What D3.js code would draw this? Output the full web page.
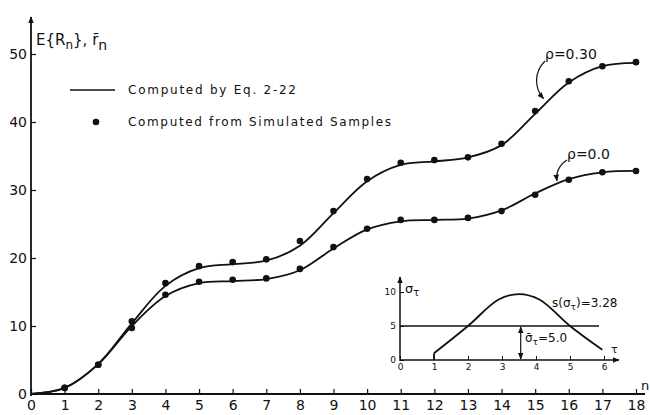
<!DOCTYPE html>
<html>
<head>
<meta charset="utf-8">
<script src="https://cdn.jsdelivr.net/npm/d3@7"></script>
<style>
  html, body { margin: 0; padding: 0; background: #fff; }
  svg { display: block; font-family: "DejaVu Sans", sans-serif; }
</style>
</head>
<body>
<svg id="chart" width="650" height="415"></svg>
<script>
// ---------- data ----------
const nValues = [0,1,2,3,4,5,6,7,8,9,10,11,12,13,14,15,16,17,18];
const computedRho030 = [0,0.9,4.4,10.4,15.9,18.5,19.1,19.6,21.8,26.6,31.3,33.7,34.2,34.8,36.6,41.2,45.8,48.2,48.7];
const computedRho000 = [0,0.9,4.4,10.0,14.4,16.3,16.6,16.9,18.2,21.4,24.2,25.4,25.6,25.8,27.0,29.5,31.6,32.6,32.8];
const simN = [1,2,3,4,5,6,7,8,9,10,11,12,13,14,15,16,17,18];
const simRho030 = [0.9,4.3,10.7,16.3,18.8,19.4,19.8,22.5,26.9,31.6,34.0,34.4,34.8,36.8,41.6,46.0,48.2,48.8];
const simRho000 = [0.9,4.3,9.7,14.6,16.5,16.8,17.0,18.4,21.6,24.3,25.6,25.6,25.9,26.9,29.3,31.5,32.6,32.8];
const xTicks = [0,1,2,3,4,5,6,7,8,9,10,11,12,13,14,15,16,17,18];
const yTicks = [0,10,20,30,40,50];
// inset: sigma_tau vs tau
const insetTau = [1,2,2.9,3.5,4.1,5,5.95];
const insetSigma = [1,5,8.9,9.7,8.9,5,1.5];
const insetMean = 5.0;
const insetMeanTau = 3.55;
const insetXTicks = [0,1,2,3,4,5,6];
const insetYTicks = [0,5,10];

// ---------- setup ----------
const svg = d3.select("#chart");
const defs = svg.append("defs");
defs.append("marker").attr("id","arrow").attr("viewBox","0 0 10 10")
  .attr("refX",9).attr("refY",5).attr("markerWidth",7).attr("markerHeight",7)
  .attr("orient","auto-start-reverse").attr("markerUnits","userSpaceOnUse")
  .append("path").attr("d","M0,1 L10,5 L0,9 Z").attr("fill","#111");

const x = d3.scaleLinear().domain([0,18]).range([31,636]);
const y = d3.scaleLinear().domain([0,50]).range([394,54]);

const ink = "#111";

// main axes lines
svg.append("line").attr("x1",x(0)).attr("x2",x(0)).attr("y1",y(0)+2).attr("y2",17)
  .attr("stroke",ink).attr("stroke-width",1.8).attr("marker-end","url(#arrow)");
svg.append("line").attr("x1",x(0)).attr("x2",645).attr("y1",y(0)).attr("y2",y(0))
  .attr("stroke",ink).attr("stroke-width",1.8);

const xAxis = svg.append("g").attr("transform",`translate(0,${y(0)})`)
  .call(d3.axisBottom(x).tickValues(xTicks).tickFormat(d3.format("d")).tickSizeInner(-5).tickSizeOuter(0).tickPadding(6));
xAxis.select(".domain").remove();
xAxis.selectAll("line").attr("stroke",ink).attr("stroke-width",1.2);
xAxis.selectAll("text").attr("font-size",14).attr("fill",ink).attr("font-family","DejaVu Sans, sans-serif");

const yAxis = svg.append("g").attr("transform",`translate(${x(0)},0)`)
  .call(d3.axisLeft(y).tickValues(yTicks).tickFormat(d3.format("d")).tickSizeInner(-5).tickSizeOuter(0).tickPadding(4));
yAxis.select(".domain").remove();
yAxis.selectAll("line").attr("stroke",ink).attr("stroke-width",1.2);
yAxis.selectAll("text").attr("font-size",14).attr("fill",ink).attr("font-family","DejaVu Sans, sans-serif");

svg.append("text").attr("x",641).attr("y",390).attr("font-size",13).attr("fill",ink).text("n");

// y title
const yt = svg.append("text").attr("x",36).attr("y",45).attr("font-size",15).attr("fill",ink);
yt.append("tspan").text("E{R");
yt.append("tspan").attr("dy",4).attr("font-size",12).text("n");
yt.append("tspan").attr("dy",-4).text("},  r\u0304");
yt.append("tspan").attr("dy",5).attr("font-size",14).text("n");

// curves
const line = d3.line().x((d,i)=>x(nValues[i])).y(d=>y(d)).curve(d3.curveCatmullRom.alpha(0.5));
[computedRho030, computedRho000].forEach(arr=>{
  svg.append("path").attr("d",line(arr)).attr("fill","none").attr("stroke",ink).attr("stroke-width",1.8);
});
[simRho030, simRho000].forEach(arr=>{
  svg.append("g").selectAll("circle").data(arr).join("circle")
    .attr("cx",(d,i)=>x(simN[i])).attr("cy",d=>y(d)).attr("r",3.3).attr("fill",ink);
});

// legend
svg.append("line").attr("x1",70).attr("x2",115).attr("y1",90).attr("y2",90).attr("stroke",ink).attr("stroke-width",1.6);
svg.append("text").attr("x",128).attr("y",94).attr("font-size",12).attr("letter-spacing",1.75).attr("fill",ink).text("Computed by Eq. 2-22");
svg.append("circle").attr("cx",96).attr("cy",122).attr("r",3.3).attr("fill",ink);
svg.append("text").attr("x",128).attr("y",126).attr("font-size",12).attr("letter-spacing",1.65).attr("fill",ink).text("Computed from Simulated Samples");

// rho annotations
svg.append("text").attr("x",545).attr("y",59).attr("font-size",14).attr("fill",ink).text("\u03C1=0.30");
svg.append("path").attr("d",`M545,61 C534,72 534,88 ${x(15.25)},${y(43)-3}`)
  .attr("fill","none").attr("stroke",ink).attr("stroke-width",1.2).attr("marker-end","url(#arrow)");
svg.append("text").attr("x",567).attr("y",159).attr("font-size",14).attr("fill",ink).text("\u03C1=0.0");
svg.append("path").attr("d",`M567,160 C558,166 556,174 ${x(15.65)},${y(30.9)-3}`)
  .attr("fill","none").attr("stroke",ink).attr("stroke-width",1.2).attr("marker-end","url(#arrow)");

// ---------- inset ----------
const ix = d3.scaleLinear().domain([0,6]).range([400,604]);
const iy = d3.scaleLinear().domain([0,10]).range([360,292]);
const inset = svg.append("g");
inset.append("line").attr("x1",ix(0)).attr("x2",ix(0)).attr("y1",iy(0)+1).attr("y2",277)
  .attr("stroke",ink).attr("stroke-width",1.5).attr("marker-end","url(#arrow)");
inset.append("line").attr("x1",ix(0)).attr("x2",619).attr("y1",iy(0)).attr("y2",iy(0))
  .attr("stroke",ink).attr("stroke-width",1.5).attr("marker-end","url(#arrow)");
const ixAxis = inset.append("g").attr("transform",`translate(0,${iy(0)})`)
  .call(d3.axisBottom(ix).tickValues(insetXTicks).tickFormat(d3.format("d")).tickSizeInner(-4).tickSizeOuter(0).tickPadding(4));
ixAxis.select(".domain").remove();
ixAxis.selectAll("line").attr("stroke",ink);
ixAxis.selectAll("text").attr("font-size",9).attr("fill",ink).attr("font-family","DejaVu Sans, sans-serif");
const iyAxis = inset.append("g").attr("transform",`translate(${ix(0)},0)`)
  .call(d3.axisLeft(iy).tickValues(insetYTicks).tickFormat(d3.format("d")).tickSizeInner(-4).tickSizeOuter(0).tickPadding(4));
iyAxis.select(".domain").remove();
iyAxis.selectAll("line").attr("stroke",ink);
iyAxis.selectAll("text").attr("font-size",9).attr("fill",ink).attr("font-family","DejaVu Sans, sans-serif");

const sl = inset.append("text").attr("x",405).attr("y",293).attr("font-size",13).attr("fill",ink);
sl.append("tspan").text("\u03C3");
sl.append("tspan").attr("dy",3).attr("font-size",10).text("\u03C4");
inset.append("text").attr("x",611).attr("y",353).attr("font-size",11).attr("fill",ink).text("\u03C4");

// inset curve
inset.append("line").attr("x1",ix(1)).attr("x2",ix(1)).attr("y1",iy(0)).attr("y2",iy(1))
  .attr("stroke",ink).attr("stroke-width",1.8);
const iline = d3.line().x((d,i)=>ix(insetTau[i])).y(d=>iy(d)).curve(d3.curveCatmullRom.alpha(0.5));
inset.append("path").attr("d",iline(insetSigma)).attr("fill","none").attr("stroke",ink).attr("stroke-width",1.8);
// mean line
inset.append("line").attr("x1",ix(0)).attr("x2",599).attr("y1",iy(insetMean)).attr("y2",iy(insetMean))
  .attr("stroke",ink).attr("stroke-width",1.5);
// double arrow
inset.append("line").attr("x1",ix(insetMeanTau)).attr("x2",ix(insetMeanTau)).attr("y1",iy(insetMean)+1).attr("y2",iy(0)-1)
  .attr("stroke",ink).attr("stroke-width",1.2).attr("marker-start","url(#arrow)").attr("marker-end","url(#arrow)");
const ml = inset.append("text").attr("x",525).attr("y",342).attr("font-size",12).attr("fill",ink);
ml.append("tspan").text("\u03C3\u0304");
ml.append("tspan").attr("dy",3).attr("font-size",9).text("\u03C4");
ml.append("tspan").attr("dy",-3).text("=5.0");
const sd = inset.append("text").attr("x",552).attr("y",307).attr("font-size",12).attr("fill",ink);
sd.append("tspan").text("s(\u03C3");
sd.append("tspan").attr("dy",3).attr("font-size",9).text("\u03C4");
sd.append("tspan").attr("dy",-3).text(")=3.28");
</script>
</body>
</html>
